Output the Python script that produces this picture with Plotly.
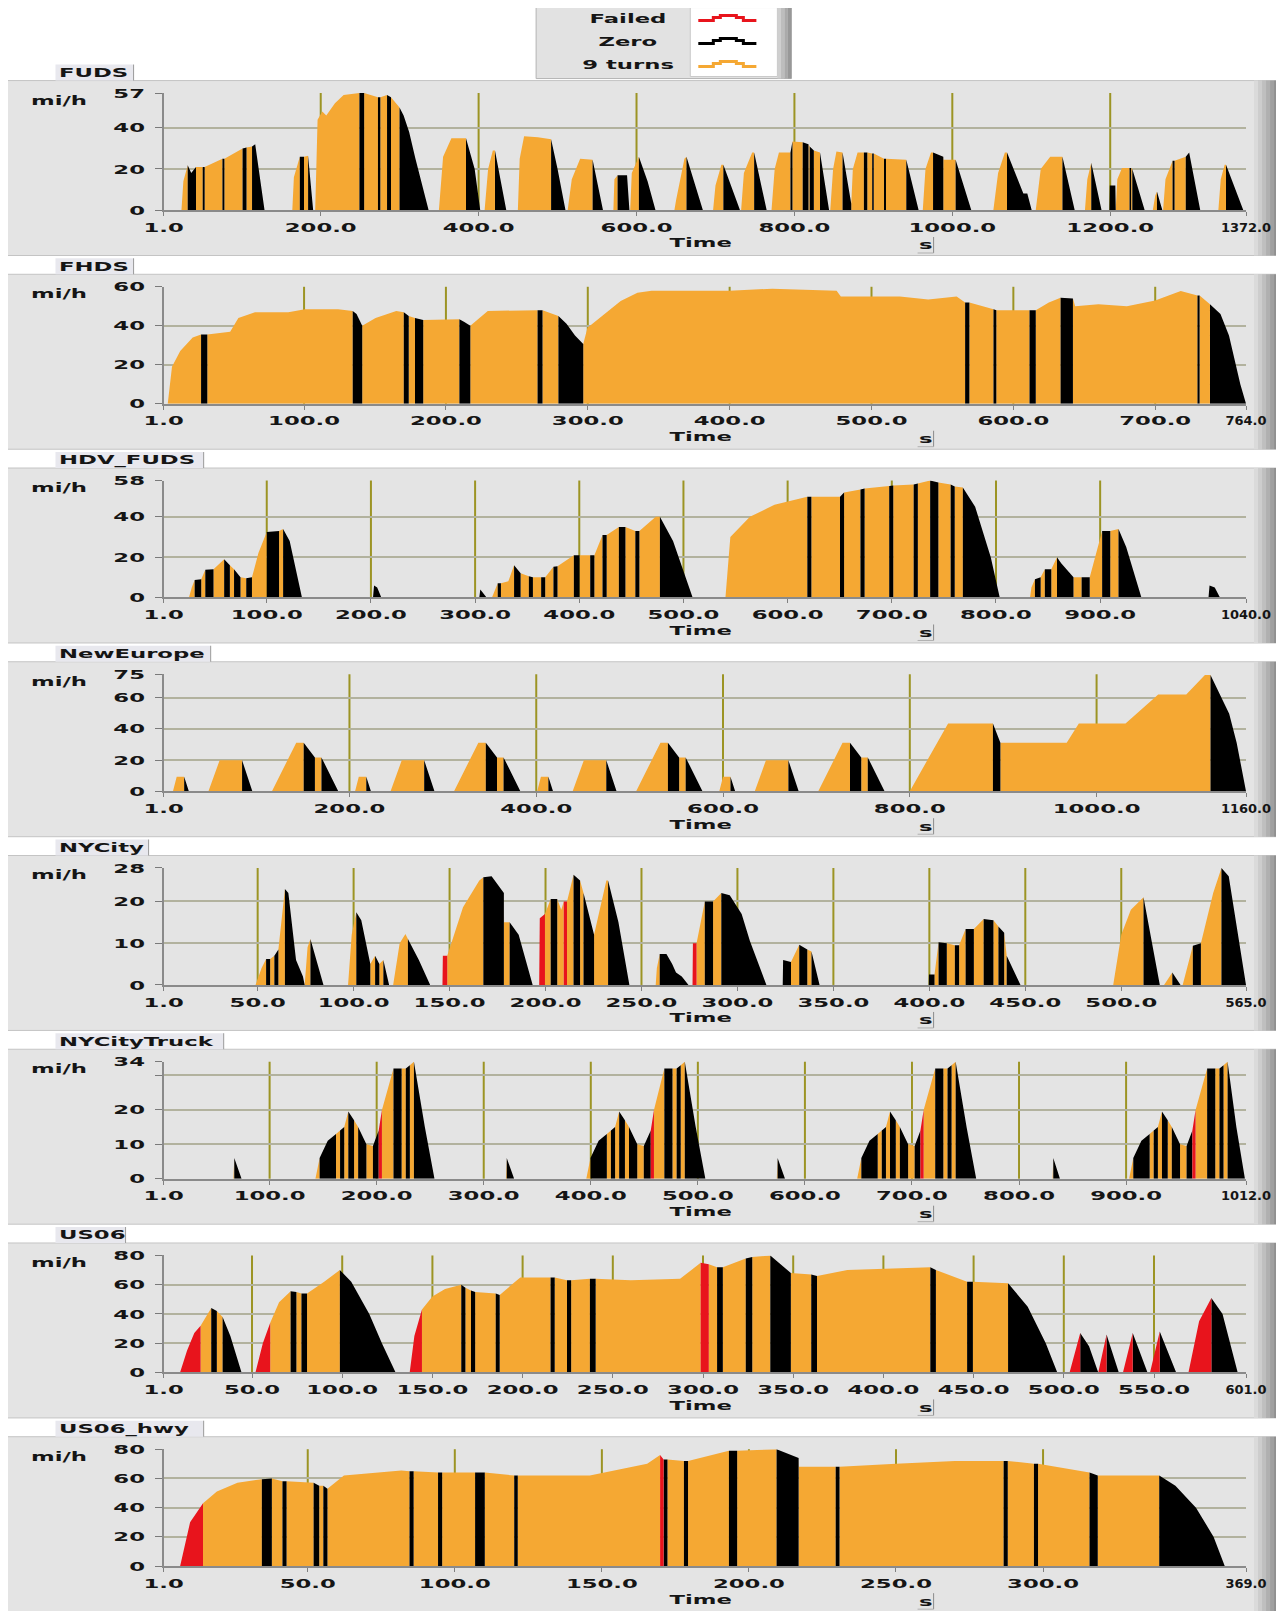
import json
import plotly.graph_objects as go

# ---------------- data ----------------
panel_names = ["FUDS", "FHDS", "HDV_FUDS", "NewEurope", "NYCity", "NYCityTruck", "US06", "US06_hwy"]
x_max = [1372, 764, 1040, 1160, 565, 1012, 601, 369]
y_max = [57, 60, 58, 75, 28, 34, 80, 80]
x_tick_vals = [
    [1, 200, 400, 600, 800, 1000, 1200, 1372],
    [1, 100, 200, 300, 400, 500, 600, 700, 764],
    [1, 100, 200, 300, 400, 500, 600, 700, 800, 900, 1040],
    [1, 200, 400, 600, 800, 1000, 1160],
    [1, 50, 100, 150, 200, 250, 300, 350, 400, 450, 500, 565],
    [1, 100, 200, 300, 400, 500, 600, 700, 800, 900, 1012],
    [1, 50, 100, 150, 200, 250, 300, 350, 400, 450, 500, 550, 601],
    [1, 50, 100, 150, 200, 250, 300, 369],
]
y_tick_vals = [
    [0, 20, 40, 57], [0, 20, 40, 60], [0, 20, 40, 58], [0, 20, 40, 60, 75],
    [0, 10, 20, 28], [0, 10, 20, 30, 34], [0, 20, 40, 60, 80], [0, 20, 40, 60, 80],
]
y_tick_text = [
    ["0", "20", "40", "57"], ["0", "20", "40", "60"], ["0", "20", "40", "58"], ["0", "20", "40", "60", "75"],
    ["0", "10", "20", "28"], ["0", "10", "20", "", "34"], ["0", "20", "40", "60", "80"], ["0", "20", "40", "60", "80"],
]
legend_names = ["Failed", "Zero", "9 turns"]
category_codes = ["F", "Z", "O"]

FUDS = [
    (1,0,'O'),(23.6,0,'O'),(26,14,'O'),(31.5,21.8,'Z'),(36,18,'Z'),(42,21,'O'),(50.5,21,'Z'),(53,21,'O'),(75.5,25,'Z'),(78,25,'O'),(101,30,'Z'),(106,30.5,'O'),(113,31,'Z'),(117,32,'Z'),(123,15,'Z'),(128.8,0,'O'),
    (164,0,'O'),(166,16,'O'),(173.5,26,'Z'),(178.8,26,'O'),(184,26.4,'Z'),(190.4,0,'O'),
    (193,0,'O'),(196,44,'O'),(202,48,'O'),(207,46,'O'),(218,52,'O'),(229,56,'O'),(249,57,'Z'),(255,57,'O'),(272.5,55,'Z'),(275.5,55,'O'),(284,56,'Z'),(289,55,'O'),(299.8,50,'Z'),(305,46,'Z'),(312,38,'Z'),(320,25,'Z'),(336.6,0,'O'),
    (349.7,0,'O'),(355,26,'O'),(365.5,35,'O'),(384,35,'Z'),(395,20,'Z'),(402,0,'O'),
    (407.6,0,'O'),(412,20,'O'),(418,29,'O'),(420.7,29,'Z'),(435,0,'O'),
    (449.7,0,'O'),(452,25,'O'),(457.6,36,'O'),(475,35.5,'O'),(491.8,34.5,'Z'),(500,20,'Z'),(510,0,'O'),
    (512.8,0,'O'),(518,15,'O'),(528.6,25,'O'),(544.4,24.5,'Z'),(557.5,0,'O'),
    (570.7,0,'O'),(572,15,'O'),(576,17,'Z'),(588,17,'Z'),(591,0,'O'),(592,0,'O'),(594,18,'O'),(603,26,'Z'),(614,14,'Z'),(624,0,'O'),
    (648,0,'O'),(650.2,5,'O'),(660.7,25,'O'),(663.3,26,'Z'),(684,0,'O'),
    (697,0,'O'),(700,12,'O'),(707.5,22,'O'),(710,22,'Z'),(731,0,'O'),
    (732.5,0,'O'),(736,18,'O'),(746.5,28,'O'),(749,28,'Z'),(764.8,0,'O'),
    (771,0,'O'),(775,20,'O'),(780.4,28,'O'),(795,28,'Z'),(797.5,33.4,'O'),(810.5,33,'Z'),(817.8,32,'O'),(819.4,31,'Z'),(824.6,29,'O'),(832.4,28,'Z'),(843.9,0,'O'),
    (845.4,0,'O'),(849,20,'O'),(853.2,28.5,'O'),(861,28,'Z'),(872,3,'O'),(874,20,'O'),(880,28,'O'),(888,28,'Z'),(892.3,28,'O'),(898.5,27.5,'Z'),(900.5,27.5,'O'),(913.5,25,'Z'),(916,25,'O'),(941.7,24.5,'Z'),(957.3,0,'O'),
    (962.6,0,'O'),(966,20,'O'),(973,28,'O'),(975.6,28,'Z'),(988.6,26,'O'),(989,24.5,'O'),(1004.2,24.5,'Z'),(1024,0,'O'),
    (1052,0,'O'),(1058,18,'O'),(1066.6,28,'O'),(1069.3,28,'Z'),(1090,8,'Z'),(1095,8,'Z'),(1100.5,0,'O'),
    (1105.7,0,'O'),(1112,20,'O'),(1124,26,'O'),(1139.5,26,'Z'),(1155,0,'O'),
    (1168,0,'O'),(1171,15,'O'),(1176,23,'Z'),(1189,0,'O'),
    (1199,0,'Z'),(1199.5,12,'Z'),(1206.5,12,'Z'),(1207,0,'O'),(1209,15,'O'),(1215,20.5,'O'),(1224.5,20.5,'Z'),(1226.5,20.5,'O'),(1228,20,'Z'),(1243.6,0,'O'),
    (1254,0,'O'),(1257,7,'O'),(1259.2,9,'Z'),(1266,0,'O'),(1267,0,'O'),(1270,15,'O'),(1279,24,'Z'),(1281.5,24,'O'),(1295.7,26,'Z'),(1300,28,'Z'),(1314,0,'O'),
    (1337,0,'O'),(1340,15,'O'),(1345,22,'O'),(1346.7,22,'Z'),(1368.5,0,'O'),(1372,0,'O'),
]
FHDS = [
    (1,0,'O'),(3.9,0,'O'),(6.9,19,'O'),(12.7,27,'O'),(21.5,34,'O'),(27.4,35.5,'Z'),(31.8,35.5,'O'),(47.9,37,'O'),(53.7,44,'O'),(65.4,47,'O'),(88.9,47,'O'),(100.6,48.5,'O'),(124,48.5,'O'),(134.3,47.6,'Z'),(137,46,'Z'),(141,40,'O'),(150.4,44,'O'),(165,47.6,'O'),(170.3,47,'Z'),(173.8,45,'O'),(178.2,44,'Z'),(184,43,'O'),(209.5,43.4,'Z'),(213,42,'Z'),(217.2,40,'O'),(229.5,47.6,'O'),(264.6,48,'Z'),(268.1,48,'O'),(279.3,45,'Z'),(285,41,'Z'),(291,35,'Z'),(296.8,30.7,'O'),(299.8,39,'O'),(311.5,46,'O'),(323.2,52.7,'O'),(335,57,'O'),(345,58,'O'),(400,58,'O'),(430,59,'O'),(475.4,58,'O'),(478.4,55,'O'),(520,55,'O'),(540,53.5,'O'),(560,55,'O'),(566,52,'Z'),(569,52,'O'),(586,48.5,'Z'),(588,48,'O'),(611.4,48,'Z'),(615.8,48,'O'),(625,52,'O'),(633.3,54.4,'Z'),(642,54,'O'),(643.6,50,'O'),(660,51,'O'),(680,50,'O'),(700,53,'O'),(718,57.8,'O'),(729.8,55.5,'Z'),(731.3,55.5,'O'),(738.6,51,'Z'),(746,46,'Z'),(752,35,'Z'),(760,10,'Z'),(764,0,'O'),
]
HDV_FUDS = [
    (1,0,'O'),(25.3,0,'O'),(28,5,'O'),(30.8,8.7,'Z'),(37.1,9,'O'),(41,13.7,'Z'),(48.9,14,'O'),(59.1,19,'Z'),(64.6,16,'O'),(68.6,14,'Z'),(74.8,10,'O'),(80.3,9.5,'Z'),(85.8,10,'O'),(92,22,'O'),(100,32.5,'Z'),(111.8,33,'O'),(115.7,34,'Z'),(122,28,'Z'),(133.8,0,'O'),
    (202,0,'Z'),(203,6,'Z'),(206,5,'Z'),(210,0,'O'),
    (304,0,'Z'),(305,4,'Z'),(311,0,'O'),
    (316.2,0,'O'),(321.7,7,'Z'),(324.8,7,'O'),(331.9,8,'O'),(337.4,16,'Z'),(343.7,12,'O'),(351.6,10.5,'Z'),(355.5,10,'O'),(363.4,10,'Z'),(367.3,10,'O'),(375.2,15.3,'Z'),(379.1,15.5,'O'),(394.8,21,'Z'),(400.3,21,'O'),(410.5,21,'Z'),(414.5,21,'O'),(422.3,31,'Z'),(426.3,31,'O'),(438,35,'Z'),(444.3,35,'O'),(453.8,33,'Z'),(457.7,33,'O'),(473.4,40,'O'),(477.4,40,'Z'),(490,28,'Z'),(508.8,0,'O'),
    (540.3,0,'O'),(545,30,'O'),(563.8,40,'O'),(587.4,46,'O'),(618.9,50,'Z'),(622.8,50,'O'),(650.3,50,'Z'),(654.2,52,'O'),(669.9,53.6,'Z'),(673.9,54,'O'),(697.5,55.3,'Z'),(701.4,55.5,'O'),(721,56,'Z'),(725,56.5,'O'),(736.8,58,'Z'),(744.7,57,'O'),(756.5,56,'Z'),(760.4,55,'O'),(768.2,54.5,'Z'),(780,45,'Z'),(795,20,'Z'),(803.6,0,'O'),
    (832.7,0,'O'),(834,5,'O'),(837.4,9,'Z'),(842.9,10,'O'),(846.9,14,'Z'),(853.1,14,'O'),(858.6,20,'Z'),(862.6,17,'Z'),(874.4,10,'O'),(882.2,10,'Z'),(890,10,'O'),(901.9,33,'Z'),(909.7,33,'O'),(917.6,34,'Z'),(925,25,'Z'),(939.6,0,'O'),
    (1004,0,'Z'),(1005,6,'Z'),(1010,5,'Z'),(1015,0,'O'),(1040,0,'O'),
]
NewEurope = [
    (1,0,'O'),(11,0,'O'),(15,9.3,'O'),(23,9.3,'Z'),(28,0,'O'),(49,0,'O'),(61,19.9,'O'),(85,19.9,'Z'),(96,0,'O'),(117,0,'O'),(143,31.1,'O'),(151,31.1,'Z'),(163,21.7,'O'),(170,21.7,'Z'),(188,0,'O'),
    (206,0,'O'),(210,9.3,'O'),(218,9.3,'Z'),(223,0,'O'),(244,0,'O'),(256,19.9,'O'),(280,19.9,'Z'),(291,0,'O'),(312,0,'O'),(338,31.1,'O'),(346,31.1,'Z'),(358,21.7,'O'),(365,21.7,'Z'),(383,0,'O'),
    (401,0,'O'),(405,9.3,'O'),(413,9.3,'Z'),(418,0,'O'),(439,0,'O'),(451,19.9,'O'),(475,19.9,'Z'),(486,0,'O'),(507,0,'O'),(533,31.1,'O'),(541,31.1,'Z'),(553,21.7,'O'),(560,21.7,'Z'),(578,0,'O'),
    (596,0,'O'),(600,9.3,'O'),(608,9.3,'Z'),(613,0,'O'),(634,0,'O'),(646,19.9,'O'),(670,19.9,'Z'),(681,0,'O'),(702,0,'O'),(728,31.1,'O'),(736,31.1,'Z'),(748,21.7,'O'),(755,21.7,'Z'),(773,0,'O'),
    (800,0,'O'),(841,43.5,'O'),(889,43.5,'Z'),(897,31.1,'O'),(968,31.1,'O'),(981,43.5,'O'),(1031,43.5,'O'),(1066,62.1,'O'),(1096,62.1,'O'),(1116,74.6,'O'),(1122,74.6,'Z'),(1142,49.7,'Z'),(1150,31.1,'Z'),(1160,0,'O'),
]
NYCity = [
    (1,0,'O'),(48.9,0,'O'),(52,4,'O'),(54.4,6.2,'Z'),(56.5,6.2,'O'),(58.7,7,'Z'),(60.8,8.5,'O'),(64.2,23,'Z'),(66,22,'Z'),(70,6,'Z'),(73.6,2,'Z'),(74.5,0,'O'),(76,9,'O'),(77.5,11,'Z'),(84.3,0,'O'),
    (97.1,0,'O'),(99,12,'O'),(101.4,17.4,'Z'),(104,15.5,'Z'),(108.7,5,'O'),(111.2,7,'Z'),(113.4,5,'O'),(115.5,6,'Z'),(118.5,0,'O'),
    (120.6,0,'O'),(124,10,'O'),(127,12.2,'O'),(128.3,11,'Z'),(134,6,'Z'),(139.9,0,'O'),
    (146.3,0,'F'),(146.5,7,'F'),(148.8,7,'O'),(157,18.6,'O'),(165.5,25,'O'),(167.6,25.8,'Z'),(171.9,26,'Z'),(178.3,22,'O'),(178.4,15,'O'),(181.3,15,'Z'),(186,12,'Z'),(193.3,0,'O'),
    (195.4,0,'O'),(196.7,0,'F'),(197,16,'F'),(199.7,17,'O'),(202.7,20.6,'Z'),(206.1,20.6,'O'),(208.2,18,'O'),(209.5,20,'F'),(211.2,20,'O'),(214.6,26.4,'Z'),(218,25,'O'),(219.8,22,'Z'),(225.3,12,'O'),(231.7,25,'O'),(232.6,25,'Z'),(238,15,'Z'),(243.7,0,'O'),
    (257.4,0,'O'),(258,4,'O'),(259.5,7.4,'Z'),(263,7.4,'Z'),(266,5,'Z'),(268,3,'Z'),(271,2,'Z'),(274.5,0,'O'),
    (276.6,0,'F'),(276.8,10,'F'),(278.7,10,'O'),(283,20,'Z'),(287.3,20,'O'),(291.6,22,'Z'),(296,21.5,'Z'),(302.2,17,'Z'),(306.5,10.5,'Z'),(315.1,0,'O'),
    (323.6,0,'Z'),(323.8,6,'Z'),(327.9,5.5,'O'),(332.2,9.6,'Z'),(336.4,8.5,'O'),(338.6,8,'Z'),(342.8,0,'O'),
    (399.7,0,'Z'),(399.8,2.5,'Z'),(402.7,2.5,'O'),(404.8,10.2,'Z'),(409.1,10,'O'),(413.3,9.5,'Z'),(415.5,9.5,'O'),(418.9,13.4,'Z'),(423.2,13.4,'O'),(428.3,15.8,'Z'),(433.4,15.5,'O'),(436,14,'Z'),(439,12.5,'O'),(440.3,7,'Z'),(447.5,0,'O'),
    (495.8,0,'O'),(500,12,'O'),(505,18,'O'),(511.6,21,'Z'),(520.1,0,'O'),
    (522.3,0,'O'),(526.6,3,'Z'),(530.9,0,'O'),
    (532,0,'O'),(537.3,9.4,'Z'),(541.5,10,'O'),(547.9,22,'O'),(552.2,28,'Z'),(556,26,'Z'),(565,0,'O'),
]
NYCityTruck = [
    (1,0,'O'),(66.2,0,'O'),(67,6,'Z'),(73.8,0,'O'),
    (142.8,0,'O'),(146.7,6,'Z'),(154.3,11,'Z'),(162,13,'O'),(165.8,14,'Z'),(169.7,15,'O'),(173.5,19.5,'Z'),(178.9,17,'O'),(182.7,15,'Z'),(190.4,10,'O'),(196.5,9.5,'Z'),(201.9,14,'F'),(204.9,20,'O'),(215.7,32,'Z'),(223.3,32,'O'),(227.2,32,'Z'),(231,33,'O'),(234.8,34,'Z'),(245,15,'Z'),(254,0,'O'),
    (320.7,0,'O'),(321.5,6,'Z'),(328.4,0,'O'),
    (395.8,0,'O'),(399.7,6,'Z'),(407.3,11,'Z'),(415,13,'O'),(418.8,14,'Z'),(422.7,15,'O'),(426.5,19.5,'Z'),(431.9,17,'O'),(435.7,15,'Z'),(443.4,10,'O'),(449.5,9.5,'Z'),(456,14,'F'),(459,20,'O'),(468.7,32,'Z'),(476.3,32,'O'),(480.2,32,'Z'),(484,33,'O'),(487.8,34,'Z'),(498,15,'Z'),(507,0,'O'),
    (573.7,0,'O'),(574.5,6,'Z'),(581.4,0,'O'),
    (648.8,0,'O'),(652.7,6,'Z'),(660.3,11,'Z'),(668,13,'O'),(671.8,14,'Z'),(675.7,15,'O'),(679.5,19.5,'Z'),(684.9,17,'O'),(688.7,15,'Z'),(696.4,10,'O'),(702.5,9.5,'Z'),(707.9,14,'F'),(710.9,20,'O'),(721.7,32,'Z'),(729.3,32,'O'),(733.2,32,'Z'),(737,33,'O'),(740.8,34,'Z'),(751,15,'Z'),(760,0,'O'),
    (831.3,0,'O'),(832,6,'Z'),(838.2,0,'O'),
    (902.8,0,'O'),(906.7,6,'Z'),(914.3,11,'Z'),(922,13,'O'),(925.8,14,'Z'),(929.7,15,'O'),(933.5,19.5,'Z'),(938.9,17,'O'),(942.7,15,'Z'),(950.4,10,'O'),(956.5,9.5,'Z'),(961.9,14,'F'),(964.9,20,'O'),(975.7,32,'Z'),(983.3,32,'O'),(987.2,32,'Z'),(991,33,'O'),(994.8,34,'Z'),(1003,15,'Z'),(1011,0,'O'),(1012,0,'O'),
]
US06 = [
    (1,0,'O'),(10.1,0,'F'),(14,15,'F'),(18,27,'F'),(21.5,32,'O'),(27.4,44,'Z'),(30.5,42,'O'),(33.7,38,'Z'),(38,25,'Z'),(44.2,0,'O'),
    (51.9,0,'F'),(56,20,'F'),(60.1,34,'O'),(65,48,'O'),(71.4,55.6,'Z'),(74.6,55,'O'),(77.4,54,'Z'),(80.5,54,'O'),(90,62,'O'),(98.7,70,'Z'),(105,62,'Z'),(115,40,'Z'),(122,20,'Z'),(129.6,0,'O'),
    (137.4,0,'F'),(140,25,'F'),(144.2,43,'O'),(150,52,'O'),(157,57,'O'),(166,60,'Z'),(168.3,58,'O'),(171.4,56,'Z'),(173.7,55,'O'),(185.1,54,'Z'),(187.3,53,'O'),(198.7,65,'O'),(215.5,65,'Z'),(217.8,65,'O'),(224.6,63,'Z'),(226.9,63,'O'),(237.3,64,'Z'),(240.5,64,'O'),(260,63,'O'),(287.3,64,'O'),(298.7,75,'F'),(303.2,74,'O'),(307.8,72,'Z'),(311,72,'O'),(323.7,78,'Z'),(327.3,79,'O'),(337.3,80,'Z'),(348.7,68,'O'),(360,67,'Z'),(363.2,66,'O'),(380,70,'O'),(400,71,'O'),(426,72,'Z'),(429.1,70,'O'),(446.4,62,'Z'),(449.6,62,'O'),(469.1,61,'Z'),(480,45,'Z'),(490,20,'Z'),(496.4,0,'O'),
    (503.2,0,'F'),(509.1,27,'Z'),(514,18,'Z'),(519.1,0,'F'),(523.7,26,'Z'),(530.5,0,'O'),
    (532.8,0,'F'),(538.2,27,'Z'),(546.4,0,'O'),
    (547.8,0,'F'),(553.2,28,'Z'),(562.3,0,'O'),
    (569.1,0,'F'),(575,35,'F'),(581.8,51,'Z'),(588,40,'Z'),(596.4,0,'O'),(601,0,'O'),
]
US06_hwy = [
    (1,0,'O'),(6.6,0,'F'),(10,30,'F'),(14.4,43,'O'),(19.1,51,'O'),(26.1,57,'O'),(34.4,59.5,'Z'),(37.8,60,'O'),(41.4,58,'Z'),(42.8,58,'O'),(52,57,'Z'),(53.9,55,'O'),(55.3,55,'Z'),(56.7,53,'O'),(62.3,62,'O'),(81.8,65.5,'O'),(84.6,65,'Z'),(86,65,'O'),(94.3,64,'Z'),(95.7,64,'O'),(106.9,64,'Z'),(110.2,64,'O'),(120.2,62,'Z'),(121.4,62,'O'),(145.9,62,'O'),(165.4,70,'O'),(169.8,76,'F'),(171,73,'Z'),(172.3,73,'O'),(177.9,72,'Z'),(179.3,72,'O'),(193.2,79,'Z'),(196,79,'O'),(209.4,80,'Z'),(216.9,74,'O'),(217,68,'O'),(229.5,68,'Z'),(230.8,68,'O'),(250,70,'O'),(270,72,'O'),(286.6,72,'Z'),(288,72,'O'),(296.9,70,'Z'),(298.3,70,'O'),(315.8,64,'Z'),(318.6,62,'O'),(339.5,62,'Z'),(345,55,'Z'),(352,40,'Z'),(358,20,'Z'),(361.8,0,'O'),(369,0,'O'),
]
panel_rows = [FUDS, FHDS, HDV_FUDS, NewEurope, NYCity, NYCityTruck, US06, US06_hwy]

# ---------------- style / geometry ----------------
OFF = 8                          # default body margin of the page
W, H = 1300, 1610                # figure size in page pixels
# measured page -> picture mapping (picture = A + B * page)
AX, BX = 12.8, 0.9703
AY, BY = 6.5, 0.991
COLORS = {"F": "#E8141C", "Z": "#000000", "O": "#F5A833"}
TOP0, PITCH, PH = 92.5, 193.8, 117.0     # target picture pixels
PLOT_L, PLOT_R = 164.0, 1245.0
title_box_right = [134, 134, 204, 211, 149, 224, 126, 204]
FONT = "DejaVu Sans"
TXT = dict(family=FONT, size=13, color="#151515", weight=700)


def X(t):
    return ((t - AX) / BX - OFF) / W


def Y(t):
    return 1 - ((t - AY) / BY - OFF) / H


def runs(rows, cat):
    xs, ys = [], []
    n = len(rows)
    i = 0
    while i < n - 1:
        if rows[i][2] == cat:
            j = i
            while j < n - 1 and rows[j][2] == cat:
                j += 1
            seg = rows[i:j + 1]
            xs += [seg[0][0]] + [r[0] for r in seg] + [seg[-1][0], None]
            ys += [0] + [r[1] for r in seg] + [0, None]
            i = j
        else:
            i += 1
    return xs, ys


fig = go.Figure()
shapes, annotations = [], []

for k in range(8):
    top = TOP0 + PITCH * k
    bot = top + PH
    xa = "x" if k == 0 else f"x{k + 1}"
    ya = "y" if k == 0 else f"y{k + 1}"
    rows = panel_rows[k]
    for cat in ["O", "Z", "F"]:
        xs, ys = runs(rows, cat)
        if not xs:
            continue
        fig.add_trace(go.Scatter(
            x=xs, y=ys, xaxis=xa, yaxis=ya, mode="lines", fill="toself",
            fillcolor=COLORS[cat], line=dict(width=0, color=COLORS[cat]),
            hoverinfo="skip", showlegend=False,
        ))
    xkey = "xaxis" if k == 0 else f"xaxis{k + 1}"
    ykey = "yaxis" if k == 0 else f"yaxis{k + 1}"
    fig.layout[xkey] = dict(
        domain=[X(PLOT_L), X(PLOT_R)], anchor=ya, range=[1, x_max[k]],
        tickmode="array", tickvals=x_tick_vals[k],
        ticktext=[f"{v:.1f}" for v in x_tick_vals[k]],
        showgrid=False, zeroline=False, ticks="outside", ticklen=4,
        tickcolor="#808080", showline=True, linecolor="#8a8a8a", linewidth=2,
        tickfont=TXT, fixedrange=True,
    )
    fig.layout[ykey] = dict(
        domain=[Y(bot), Y(top)], anchor=xa, range=[0, y_max[k]],
        tickmode="array", tickvals=y_tick_vals[k], ticktext=y_tick_text[k],
        showgrid=True, gridcolor="#b2b29e", gridwidth=2, zeroline=False,
        ticks="outside", ticklen=7, tickcolor="#7a7a7a", ticklabelstandoff=7,
        showline=True, linecolor="#8a8a8a", linewidth=2,
        tickfont=TXT, fixedrange=True,
    )
    # panel frame
    shapes.append(dict(type="rect", xref="paper", yref="paper", layer="below",
                       x0=X(8), x1=X(1281), y0=Y(bot + 45.5), y1=Y(top - 12.5),
                       fillcolor="#e4e4e4", line=dict(color="#c4c4c4", width=1)))
    # right shaded edge
    shade = ["#dadada", "#cdcdcd", "#bfbfbf", "#b0b0b0", "#a0a0a0", "#909090", "#828282"]
    for s, col in enumerate(shade):
        shapes.append(dict(type="rect", xref="paper", yref="paper", layer="below",
                           x0=X(1253 + 4 * s), x1=X(1257 + 4 * s),
                           y0=Y(bot + 45.5), y1=Y(top - 12.5),
                           fillcolor=col, line=dict(width=0)))
    # title box
    shapes.append(dict(type="rect", xref="paper", yref="paper", layer="below",
                       x0=X(56), x1=X(title_box_right[k]), y0=Y(top - 12.5), y1=Y(top - 28.5),
                       fillcolor="#e8e8ee", line=dict(width=0)))
    shapes.append(dict(type="line", xref="paper", yref="paper", layer="above",
                       x0=X(title_box_right[k]), x1=X(title_box_right[k]),
                       y0=Y(top - 12.5), y1=Y(top - 28.5),
                       line=dict(color="#9a9a9a", width=1)))
    # "s" unit box edge
    shapes.append(dict(type="line", xref="paper", yref="paper", layer="above",
                       x0=X(933), x1=X(933), y0=Y(bot + 27), y1=Y(bot + 43),
                       line=dict(color="#8a8a8a", width=1)))
    shapes.append(dict(type="line", xref="paper", yref="paper", layer="above",
                       x0=X(917), x1=X(933), y0=Y(bot + 43), y1=Y(bot + 43),
                       line=dict(color="#b0b0b0", width=1)))
    # vertical grid lines at the inner ticks
    for tv in x_tick_vals[k][1:-1]:
        shapes.append(dict(type="line", xref=xa, yref=f"{ya} domain", layer="below",
                           x0=tv, x1=tv, y0=0, y1=1,
                           line=dict(color="#9c9424", width=2)))
    annotations.append(dict(text=panel_names[k], xref="paper", yref="paper",
                            x=X(58.5), y=Y(top - 20.5), xanchor="left", yanchor="middle",
                            align="left", showarrow=False, borderpad=0, font=TXT))
    annotations.append(dict(text="mi/h", xref="paper", yref="paper",
                            x=X(31), y=Y(top + 7), xanchor="left", yanchor="middle",
                            align="left", showarrow=False, borderpad=0, font=TXT))
    annotations.append(dict(text="Time", xref="paper", yref="paper",
                            x=X(701), y=Y(bot + 33), xanchor="center", yanchor="middle",
                            showarrow=False, borderpad=0, font=TXT))
    annotations.append(dict(text="s", xref="paper", yref="paper",
                            x=X(925), y=Y(bot + 35), xanchor="center", yanchor="middle",
                            showarrow=False, borderpad=0, font=TXT))

# ---------------- legend box ----------------
shapes.append(dict(type="rect", xref="paper", yref="paper", layer="below",
                   x0=X(536), x1=X(791), y0=Y(78), y1=Y(5),
                   fillcolor="#e2e2e2", line=dict(color="#b4b4b4", width=1)))
shapes.append(dict(type="rect", xref="paper", yref="paper", layer="below",
                   x0=X(690), x1=X(777), y0=Y(76), y1=Y(7),
                   fillcolor="#ffffff", line=dict(color="#c8c8c8", width=1)))
for s, col in enumerate(["#cfcfcf", "#bdbdbd", "#aaaaaa", "#989898"]):
    shapes.append(dict(type="rect", xref="paper", yref="paper", layer="below",
                       x0=X(777 + 3.5 * s), x1=X(780.5 + 3.5 * s), y0=Y(78), y1=Y(5),
                       fillcolor=col, line=dict(width=0)))
leg_y = [18, 41, 64]
for r, (name, code) in enumerate(zip(legend_names, category_codes)):
    yc = leg_y[r]
    pts = [(698, yc + 2), (713, yc + 2), (713, yc - 1), (720, yc - 1), (720, yc - 3),
           (736, yc - 3), (736, yc - 1), (743, yc - 1), (743, yc + 2), (756, yc + 2)]
    path = "M " + " L ".join(f"{X(a):.5f},{Y(b):.5f}" for a, b in pts)
    shapes.append(dict(type="path", xref="paper", yref="paper", layer="above",
                       path=path, line=dict(color=COLORS[code], width=3)))
    annotations.append(dict(text=name, xref="paper", yref="paper",
                            x=X(628), y=Y(yc), xanchor="center", yanchor="middle",
                            showarrow=False, borderpad=0, font=TXT))

fig.update_layout(
    width=W, height=H, margin=dict(l=0, r=0, t=0, b=0),
    paper_bgcolor="#ffffff", plot_bgcolor="#ffffff",
    font=TXT, shapes=shapes, annotations=annotations, showlegend=False,
)

# widen the lettering horizontally (the reference uses a wide, stretched face);
# the end-of-axis labels at the right edge keep their natural width so they stay inside
end_labels = [f"{v[-1]:.1f}" for v in x_tick_vals]
post = "var endLabels = " + json.dumps(end_labels) + ";\n" + """
var gd = document.getElementById('{plot_id}');
var S = 1.75;
var svgEl = gd.querySelector('svg.main-svg');
var svgW = svgEl ? parseFloat(svgEl.getAttribute('width')) : 1300;
gd.querySelectorAll('text').forEach(function(el){
  try {
    var b = el.getBBox();
    if (!b || b.width === 0) return;
    var a = el.getAttribute('text-anchor') || window.getComputedStyle(el).textAnchor || 'start';
    var ax = (a === 'end') ? b.x + b.width : (a === 'middle' ? b.x + b.width / 2 : b.x);
    var s = S;
    var txt = (el.textContent || '').trim();
    if (endLabels.indexOf(txt) >= 0) {
      s = 1.0;
    } else {
      var m = el.getCTM();
      if (m && a === 'middle') {
        var cx = m.a * ax + m.e;
        var room = svgW - 18 - cx;
        if (b.width / 2 * s > room) s = Math.max(1, room / (b.width / 2));
      }
    }
    if (s === 1.0) return;
    var tr = el.getAttribute('transform') || '';
    el.setAttribute('transform', tr + ' translate(' + ax + ',0) scale(' + s + ',1) translate(' + (-ax) + ',0)');
  } catch (e) {}
});
"""
fig.write_html("out.html", post_script=post, config={"displayModeBar": False})
